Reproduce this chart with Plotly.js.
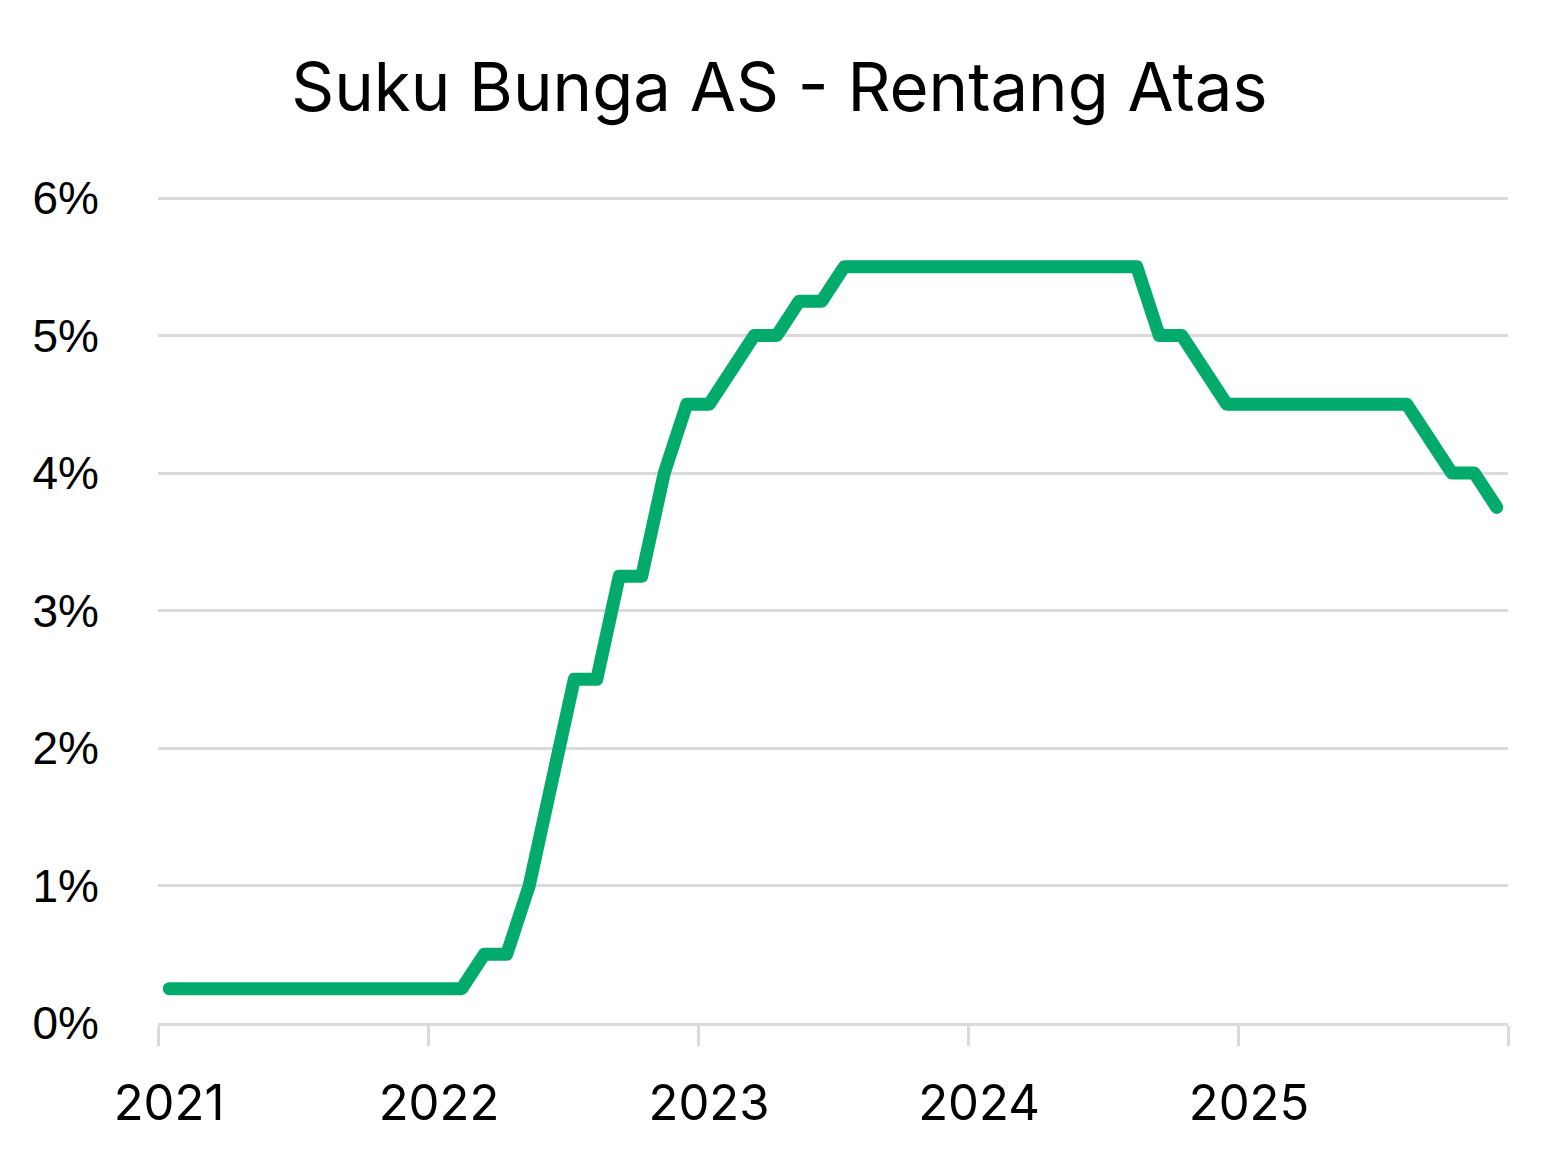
<!DOCTYPE html>
<html>
<head>
<meta charset="utf-8">
<script src="https://cdn.plot.ly/plotly-3.0.1.min.js"></script>
<style>
  html, body { margin: 0; padding: 0; background: #fff; }
  #chart { width: 1559px; height: 1168px; }
  /* rounded ends and joins like the original */
  #chart .scatterlayer .js-line { stroke-linejoin: round; stroke-linecap: round; }
</style>
</head>
<body>
<div id="chart"></div>
<script>
// ─── Data: US Fed funds upper bound, monthly Jan 2021 – Dec 2025 ───

const years = ["2021", "2022", "2023", "2024", "2025"];

const months = [];
years.forEach((y) => {
  for (let m = 1; m <= 12; m++) months.push(`${y}-${String(m).padStart(2, "0")}`);
});

const rate2021 = [0.25, 0.25, 0.25, 0.25, 0.25, 0.25, 0.25, 0.25, 0.25, 0.25, 0.25, 0.25];
const rate2022 = [0.25, 0.25, 0.5, 0.5, 1.0, 1.75, 2.5, 2.5, 3.25, 3.25, 4.0, 4.5];
const rate2023 = [4.5, 4.75, 5.0, 5.0, 5.25, 5.25, 5.5, 5.5, 5.5, 5.5, 5.5, 5.5];
const rate2024 = [5.5, 5.5, 5.5, 5.5, 5.5, 5.5, 5.5, 5.5, 5.0, 5.0, 4.75, 4.5];
const rate2025 = [4.5, 4.5, 4.5, 4.5, 4.5, 4.5, 4.5, 4.5, 4.25, 4.0, 4.0, 3.75];

const upperRate = [].concat(rate2021, rate2022, rate2023, rate2024, rate2025);

// ─── Chart ───

const GREEN = "#02ab6c";
const GRID = "#dadada";

const monthIdx = months.map((_, i) => i);
// year boundaries sit half a month before each January
const yearTicks = years.map((_, i) => i * 12 - 0.5).concat([months.length - 0.5]);
const yearText = years.concat([""]);

const trace = {
  x: monthIdx,
  y: upperRate,
  text: months,
  type: "scatter",
  mode: "lines",
  line: { color: GREEN, width: 13 },
  cliponaxis: false,
  hovertemplate: "%{text}: %{y:.2f}%<extra></extra>",
};

const layout = {
  width: 1559,
  height: 1168,
  paper_bgcolor: "#ffffff",
  plot_bgcolor: "#ffffff",
  font: { family: "Inter, 'Noto Sans', sans-serif", color: "#000" },
  margin: { l: 158, r: 51, t: 196, b: 145 },
  title: {
    text: "Suku Bunga AS - Rentang Atas",
    font: { size: 67, family: "Inter, 'Noto Sans', sans-serif", color: "#000" },
    x: 0.5,
    xref: "container",
    xanchor: "center",
    y: 1 - 88 / 1168,
    yref: "container",
    yanchor: "middle",
  },
  showlegend: false,
  xaxis: {
    range: [-0.5, months.length - 0.5],
    tickmode: "array",
    tickvals: yearTicks,
    ticktext: yearText,
    ticks: "outside",
    ticklen: 20,
    tickwidth: 3,
    tickcolor: GRID,
    ticklabelshift: 11,
    ticklabelstandoff: 15,
    tickfont: { size: 49, family: "Inter, sans-serif", color: "#000" },
    showline: true,
    linecolor: GRID,
    linewidth: 3,
    showgrid: false,
    zeroline: false,
    fixedrange: true,
  },
  yaxis: {
    range: [0, 6.015],
    tickmode: "linear",
    tick0: 0,
    dtick: 1,
    ticksuffix: "%",
    ticks: "",
    ticklabelstandoff: 58,
    tickfont: { size: 46, family: "'Liberation Sans', Arial, sans-serif", color: "#000" },
    showgrid: true,
    gridcolor: GRID,
    gridwidth: 3,
    showline: false,
    zeroline: false,
    fixedrange: true,
  },
};

Plotly.newPlot("chart", [trace], layout, { displayModeBar: false, responsive: false });
</script>
</body>
</html>
